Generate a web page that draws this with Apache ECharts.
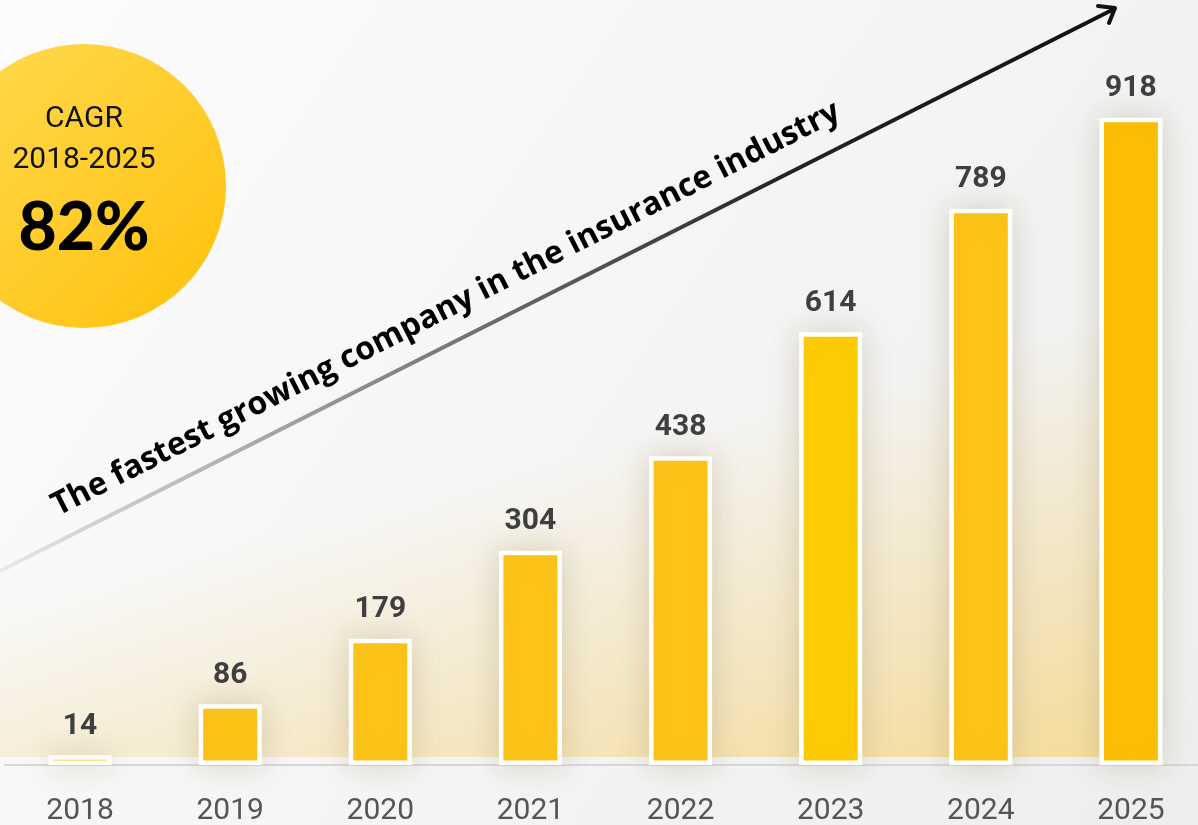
<!DOCTYPE html>
<html>
<head>
<meta charset="utf-8">
<script src="https://cdn.jsdelivr.net/npm/echarts@6/dist/echarts.min.js"></script>
<style>
  html, body { margin: 0; padding: 0; background: #f5f5f5; overflow: hidden; }
  #chart { width: 1198px; height: 825px; }
</style>
</head>
<body>
<div id="chart"></div>
<script>
// Yearly figures
const years = ['2018', '2019', '2020', '2021', '2022', '2023', '2024', '2025'];
const values = [14, 86, 179, 304, 438, 614, 789, 918];
const barColors = ['#ffc414', '#ffc414', '#ffc414', '#ffc414', '#ffc414', '#ffcd00', '#ffc414', '#ffc000'];

// Badge and headline text
const badgeLines = ['CAGR', '2018-2025'];
const badgeValue = '82%';
const headline = 'The fastest growing company in the insurance industry';

const chart = echarts.init(document.getElementById('chart'), null, { renderer: 'canvas' });

const deg = Math.PI / 180;

const option = {
  backgroundColor: 'transparent',
  animation: false,
  grid: {
    left: 5, width: 1201, top: 60, bottom: 60,
    containLabel: false,
    outerBoundsMode: 'none'
  },
  xAxis: {
    type: 'category',
    data: years,
    axisLine: { show: true, lineStyle: { color: '#d7d7d7', width: 2 } },
    axisTick: { show: false },
    axisLabel: {
      color: '#555555',
      fontFamily: 'Roboto',
      fontSize: 30,
      margin: 31,
      lineHeight: 30
    }
  },
  yAxis: {
    type: 'value',
    min: 0,
    max: 1000,
    show: false,
    splitLine: { show: false }
  },
  series: [{
    type: 'bar',
    barWidth: 63,
    data: values.map((v, i) => ({
      value: v,
      itemStyle: { color: barColors[i] }
    })),
    itemStyle: {
      borderColor: '#ffffff',
      borderWidth: 4.5,
      shadowBlur: 30,
      shadowColor: 'rgba(150,135,100,0.32)'
    },
    label: {
      show: true,
      position: 'top',
      distance: 14,
      color: '#3f3f3f',
      fontFamily: 'Roboto',
      fontWeight: 'bold',
      fontSize: 30
    }
  }],
  graphic: [
    {
      // page background
      type: 'rect',
      z: -20,
      silent: true,
      shape: { x: 0, y: 0, width: 1198, height: 825 },
      style: {
        fill: {
          type: 'linear', x: 0, y: 0, x2: 1, y2: 1,
          colorStops: [
            { offset: 0, color: '#fcfcfc' },
            { offset: 1, color: '#eeeeee' }
          ]
        }
      }
    },
    {
      // warm glow behind the bars
      type: 'rect',
      z: -19,
      silent: true,
      shape: { x: 0, y: 300, width: 1100, height: 457 },
      style: {
        fill: {
          type: 'linear', x: 982, y: 347, x2: 1090, y2: 757, global: true,
          colorStops: [
            { offset: 0, color: 'rgba(245,222,160,0)' },
            { offset: 1, color: 'rgba(245,220,155,1)' }
          ]
        }
      }
    },
    {
      // growth arrow shaft
      type: 'line',
      z: 1,
      silent: true,
      shape: { x1: -10, y1: 576, x2: 1114, y2: 9 },
      style: {
        lineWidth: 4,
        lineCap: 'round',
        stroke: {
          type: 'linear', x: -10, y: 576, x2: 1114, y2: 9, global: true,
          colorStops: [
            { offset: 0, color: 'rgba(0,0,0,0.05)' },
            { offset: 0.35, color: 'rgba(0,0,0,0.45)' },
            { offset: 0.7, color: 'rgba(0,0,0,0.85)' },
            { offset: 1, color: '#111111' }
          ]
        }
      }
    },
    {
      // arrow head
      type: 'polyline',
      z: 1,
      silent: true,
      shape: { points: [[1098, 6], [1115, 8], [1109, 23]] },
      style: { stroke: '#111111', lineWidth: 4, lineCap: 'round', lineJoin: 'round', fill: null }
    },
    {
      type: 'text',
      z: 1,
      silent: true,
      x: 446,
      y: 309,
      rotation: 26.9 * deg,
      style: {
        text: headline,
        fill: '#000000',
        font: 'bold 32px "Open Sans", "Noto Sans", sans-serif',
        textAlign: 'center',
        textVerticalAlign: 'middle'
      }
    },
    {
      // CAGR badge
      type: 'circle',
      z: 1,
      silent: true,
      shape: { cx: 84, cy: 186, r: 142 },
      style: {
        fill: {
          type: 'linear', x: 0, y: 0, x2: 1, y2: 1,
          colorStops: [
            { offset: 0, color: '#ffda52' },
            { offset: 1, color: '#ffc10a' }
          ]
        }
      }
    },
    {
      type: 'text',
      z: 2,
      silent: true,
      x: 84,
      y: 119,
      style: {
        text: badgeLines[0],
        fill: '#111111',
        font: '30px Roboto, sans-serif',
        textAlign: 'center',
        textVerticalAlign: 'middle'
      }
    },
    {
      type: 'text',
      z: 2,
      silent: true,
      x: 84,
      y: 160,
      style: {
        text: badgeLines[1],
        fill: '#111111',
        font: '30px Roboto, sans-serif',
        textAlign: 'center',
        textVerticalAlign: 'middle'
      }
    },
    {
      type: 'text',
      z: 2,
      silent: true,
      x: 84,
      y: 229,
      style: {
        text: badgeValue,
        fill: '#000000',
        font: '900 66px Lato, sans-serif',
        textAlign: 'center',
        textVerticalAlign: 'middle'
      }
    }
  ]
};

chart.setOption(option);
</script>
</body>
</html>
